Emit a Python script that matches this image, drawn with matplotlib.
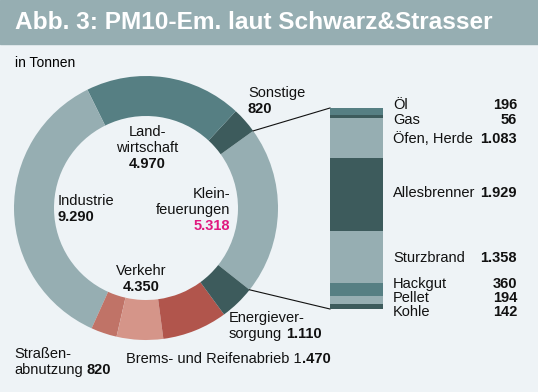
import matplotlib.pyplot as plt
from matplotlib.patches import Rectangle
import numpy as np

plt.rcParams["font.family"] = ["Liberation Sans", "DejaVu Sans"]

W, H = 538, 392

BG = "#eef3f6"
LIGHT = "#96aeb2"
TEAL = "#567f83"
DARK = "#3d5b5c"
RED = "#b1554c"
SALMON = "#d59589"
ROSE = "#c07367"
MAGENTA = "#e0197f"

# PM10 emissions in tonnes (donut, drawn counter-clockwise from Kleinfeuerungen)
verkehr_total = 4350
sectors = ["Kleinfeuerungen", "Sonstige", "Landwirtschaft", "Industrie",
           "Straßenabnutzung", "Brems- und Reifenabrieb", "Abgas", "Energieversorgung"]
sector_values = [5318, 820, 4970, 9290, 820, 1470, verkehr_total - 820 - 1470, 1110]
sector_colors = [LIGHT, DARK, TEAL, LIGHT, ROSE, SALMON, RED, DARK]

# breakdown of Kleinfeuerungen (stacked bar, top to bottom)
klein_types = ["Öl", "Gas", "Öfen, Herde", "Allesbrenner", "Sturzbrand", "Hackgut", "Pellet", "Kohle"]
klein_values = [196, 56, 1083, 1929, 1358, 360, 194, 142]
klein_colors = [TEAL, DARK, LIGHT, DARK, LIGHT, TEAL, LIGHT, DARK]


def fmt(v):
    return f"{v:,}".replace(",", ".")


fig = plt.figure(figsize=(W / 100, H / 100), dpi=100, facecolor=BG)
ax = fig.add_axes([0, 0, 1, 1])
ax.set_facecolor(BG)

# donut
cx, cy, r_out, ring = 146, 208, 132, 40
wedges, _ = ax.pie(sector_values, colors=sector_colors, startangle=38.3, counterclock=False,
                   center=(cx, cy), radius=r_out, wedgeprops=dict(width=ring, linewidth=0))
ax.set_xlim(0, W)
ax.set_ylim(H, 0)
ax.set_aspect("auto")
ax.axis("off")

# title bar
ax.add_patch(Rectangle((0, 0), W, 44, color=LIGHT, zorder=0))
ax.text(15, 29.3, "Abb. 3: PM10-Em. laut Schwarz&Strasser", color="white",
        fontsize=17.6, fontweight="bold", va="baseline", ha="left")
ax.text(15, 67, "in Tonnen", fontsize=10, va="baseline", ha="left")

FS = 10.5


def line(x, y, parts, ha="left"):
    # parts: list of (text, bold, color); pieces are chained left to right
    t = None
    for s, bold, col in parts:
        fw = "bold" if bold else "normal"
        if t is None:
            t = ax.text(x, y, s, fontsize=FS, fontweight=fw, color=col, va="baseline", ha=ha)
        else:
            gap = 0 if s.startswith(".") else 3
            t = ax.annotate(s, xy=(1, 0), xycoords=t, xytext=(gap, 0), textcoords="offset points",
                            fontsize=FS, fontweight=fw, color=col, va="bottom", ha="left")


K = "#111111"
line(147, 136, [("Land-", False, K)], "center")
line(147, 152, [("wirtschaft", False, K)], "center")
line(147, 168, [(fmt(sector_values[2]), True, K)], "center")

line(58, 205, [("Industrie", False, K)])
line(58, 221, [(fmt(sector_values[3]), True, K)])

line(230, 198, [("Klein-", False, K)], "right")
line(230, 214, [("feuerungen", False, K)], "right")
line(230, 230, [(fmt(sector_values[0]), True, MAGENTA)], "right")

line(248, 97, [("Sonstige", False, K)])
line(248, 113, [(fmt(sector_values[1]), True, K)])

line(141, 275, [("Verkehr", False, K)], "center")
line(141, 291, [(fmt(verkehr_total), True, K)], "center")

line(229, 322, [("Energiever-", False, K)])
line(229, 338, [("sorgung", False, K), (fmt(sector_values[7]), True, K)])

line(14, 358, [("Straßen-", False, K)])
line(14, 374, [("abnutzung", False, K), (fmt(sector_values[4]), True, K)])

brems = fmt(sector_values[5])
line(126, 363, [("Brems- und Reifenabrieb " + brems[0], False, K), (brems[1:], True, K)])

# stacked bar for Kleinfeuerungen
bx0, bx1, by0, by1 = 330, 383, 108, 309
bax = fig.add_axes([bx0 / W, 1 - by1 / H, (bx1 - bx0) / W, (by1 - by0) / H])
bottoms = np.concatenate([[0], np.cumsum(klein_values)[:-1]])
bax.bar(0.5, klein_values, bottom=bottoms, width=1, color=klein_colors, linewidth=0)
bax.set_xlim(0, 1)
bax.set_ylim(sum(klein_values), 0)
bax.axis("off")

# connector lines from the Kleinfeuerungen wedge to the bar
w = wedges[0]
pts = [(cx + r_out * np.cos(np.radians(a)), cy + r_out * np.sin(np.radians(a))) for a in (w.theta1, w.theta2)]
pts.sort(key=lambda p: p[1])
ax.plot([pts[0][0], bx0], [pts[0][1], by0], color="#111111", lw=0.8)
ax.plot([pts[1][0], bx0], [pts[1][1], by1], color="#111111", lw=0.8)

# labels next to the bar
label_y = [109, 124, 143, 197, 262, 288, 302, 316]
for name, v, y in zip(klein_types, klein_values, label_y):
    ax.text(393, y, name, fontsize=FS, va="baseline", ha="left", color=K)
    ax.text(517, y, fmt(v), fontsize=FS, fontweight="bold", va="baseline", ha="right", color=K)

fig.savefig("out.png", dpi=100, facecolor=BG)
